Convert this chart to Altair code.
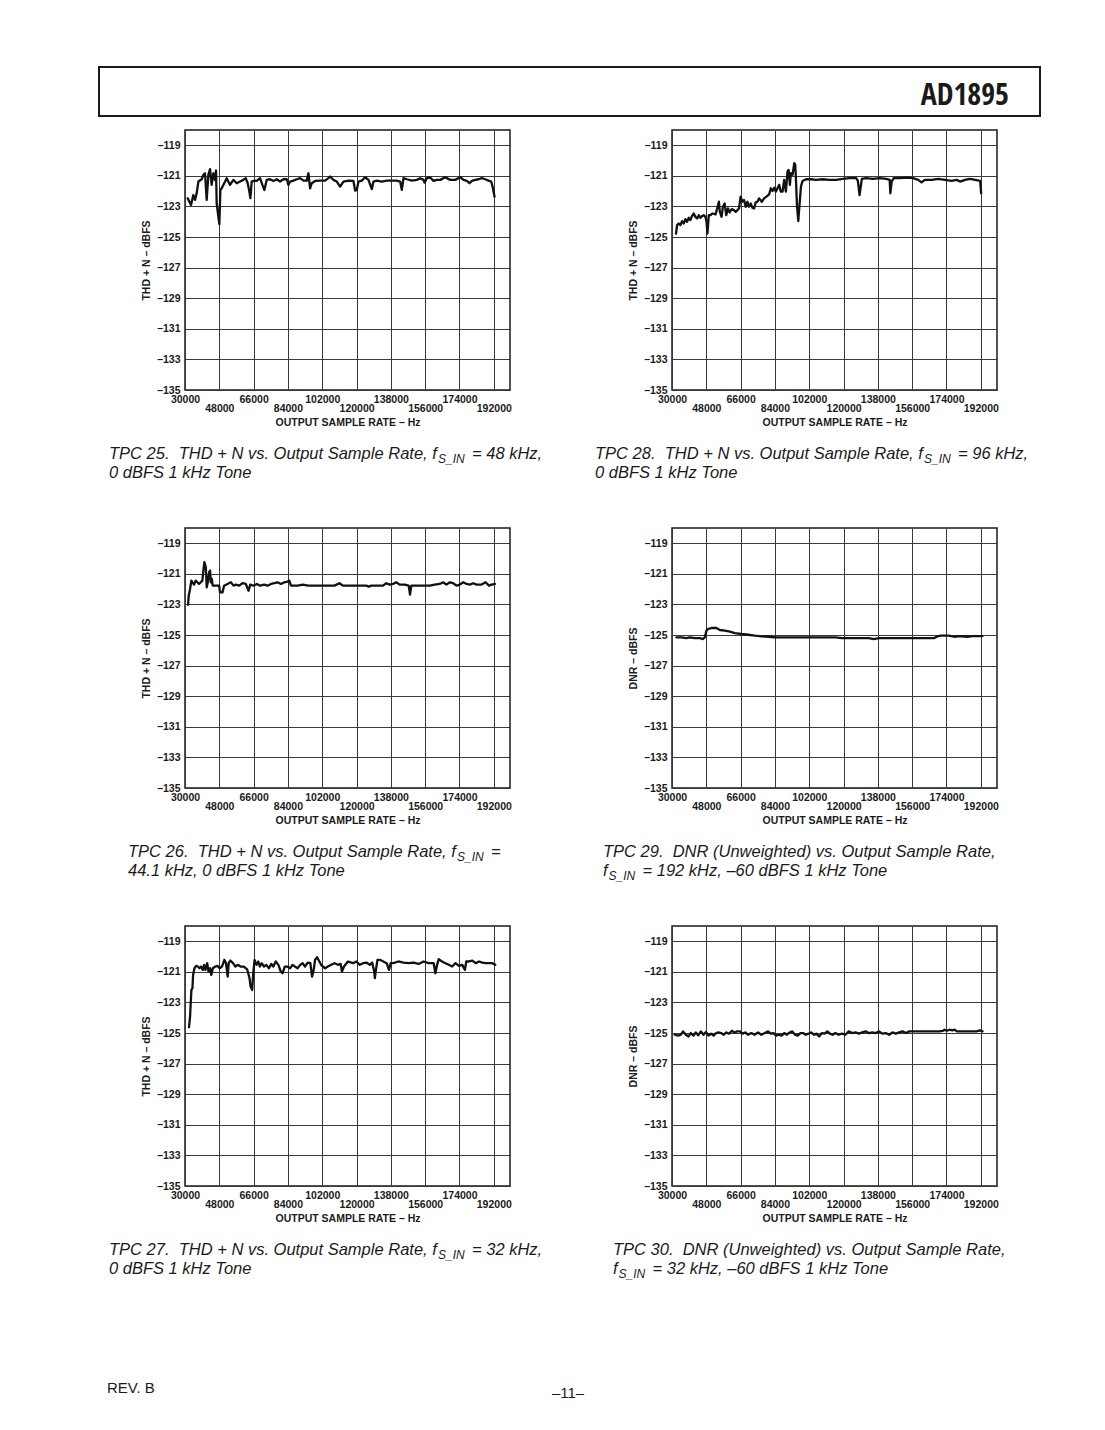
import altair as alt
import pandas as pd

# ---------------- data ----------------
TPC25_RATE = [31400, 33150, 34375, 35250, 36125, 37000, 38750, 39625, 40500, 41375, 42250, 43125, 44000, 44875,
              45750, 46275, 46625, 47500, 48025, 48550, 49250, 50125, 51875, 53625, 55375, 57125, 58875, 60625,
              61850, 62900, 63775, 64300, 65000, 66400, 67625, 69375, 70600, 71650, 72875, 74625, 76375, 78125,
              79875, 81625, 83375, 84250, 85125, 86875, 88625, 90375, 92125, 93875, 94750, 95625, 96500, 98250,
              100875, 103500, 105250, 106125, 107875, 109625, 111375, 113125, 115750, 118375, 119250, 120125,
              121000, 122750, 124500, 126250, 128000, 128875, 130625, 133250, 135875, 138500, 141125, 142875,
              143750, 144625, 146375, 149000, 151625, 153375, 155125, 155650, 156875, 158625, 160375, 162125,
              163875, 166500, 169125, 171750, 174375, 176125, 177875, 179275, 180500, 182250, 184000, 185750,
              187500, 189250, 190650, 191350, 192400]
TPC25_DB = [-122.46, -122.90, -122.25, -122.57, -122.14, -121.37, -121.22, -120.93, -120.83, -122.57, -120.93,
            -120.56, -121.59, -120.83, -121.26, -120.65, -122.79, -123.67, -124.15, -121.92, -121.81, -121.59,
            -121.15, -121.59, -121.26, -121.48, -121.37, -121.26, -121.15, -121.48, -122.03, -122.46, -121.37,
            -121.31, -121.33, -121.15, -121.59, -121.92, -121.26, -121.22, -121.33, -121.22, -121.37, -121.22,
            -121.22, -121.59, -121.37, -121.31, -121.22, -121.15, -121.31, -121.31, -120.83, -121.81, -121.48,
            -121.33, -121.31, -121.31, -121.15, -121.04, -121.26, -121.37, -121.70, -121.37, -121.31, -121.33,
            -121.96, -121.92, -121.37, -121.31, -121.09, -121.26, -121.87, -121.37, -121.31, -121.37, -121.31,
            -121.31, -121.31, -121.37, -121.92, -121.15, -121.22, -121.31, -121.26, -121.15, -121.26, -121.44,
            -121.15, -121.11, -121.33, -121.26, -121.26, -121.09, -121.26, -121.26, -121.09, -121.26, -121.33,
            -121.48, -121.33, -121.26, -121.22, -121.15, -121.22, -121.31, -121.37, -121.70, -122.36]

TPC28_RATE = [32100, 32650, 33500, 34400, 35250, 36150, 37000, 37900, 38800, 39650, 40550, 41400, 42300, 43200,
              44050, 44950, 45800, 46700, 47550, 48100, 48600, 49300, 50200, 51100, 52850, 53700, 54600, 55100,
              56000, 56700, 57600, 58450, 59350, 60200, 61300, 62500, 63400, 65150, 66000, 66900, 67800, 68650,
              69550, 70400, 71300, 72150, 73050, 73900, 74800, 75700, 77100, 78300, 79550, 80950, 81850, 82700,
              83600, 84450, 85350, 86200, 87100, 88000, 88850, 89750, 90600, 91150, 91850, 92350, 93250, 94150,
              94650, 95000, 95550, 96250, 96750, 97650, 98500, 100300, 102900, 105550, 109050, 112600, 116100,
              119600, 123100, 126650, 127500, 128400, 128900, 129600, 131900, 135400, 138950, 142450, 144200,
              144550, 145250, 146300, 149500, 153000, 156500, 159150, 160900, 162650, 166150, 169700, 173200,
              176700, 179350, 181100, 183750, 186350, 189000, 191650, 192200]
TPC28_DB = [-124.77, -124.22, -124.11, -124.22, -123.96, -124.11, -123.83, -124.00, -123.74, -123.89, -123.61,
            -123.46, -123.68, -123.79, -123.57, -123.74, -123.63, -123.57, -123.68, -124.00, -124.77, -123.57,
            -123.57, -123.46, -123.52, -123.13, -122.69, -123.35, -123.68, -123.02, -122.80, -123.57, -123.13,
            -123.39, -123.17, -123.24, -123.35, -123.13, -122.36, -122.69, -122.58, -123.02, -122.69, -123.02,
            -122.80, -123.08, -123.13, -122.73, -122.69, -122.47, -122.69, -122.47, -122.36, -122.21, -121.81,
            -121.99, -121.77, -122.03, -121.81, -121.59, -122.03, -122.03, -121.26, -122.03, -120.71, -120.61,
            -121.59, -120.82, -120.93, -120.17, -120.28, -121.15, -122.91, -123.95, -123.13, -121.70, -121.33,
            -121.22, -121.22, -121.26, -121.22, -121.26, -121.26, -121.20, -121.15, -121.15, -121.33, -122.25,
            -121.81, -121.20, -121.15, -121.20, -121.15, -121.20, -121.26, -122.14, -121.37, -121.15, -121.15,
            -121.11, -121.15, -121.26, -121.42, -121.26, -121.26, -121.20, -121.26, -121.33, -121.26, -121.37,
            -121.26, -121.20, -121.26, -121.33, -122.14]

TPC26_RATE = [31600, 31950, 32650, 33350, 33850, 34750, 35600, 36500, 37350, 38250, 39100, 39650, 40150, 40900,
              41400, 41950, 42650, 43150, 43500, 44050, 44550, 46150, 47900, 48400, 49650, 50500, 52300, 54050,
              55450, 56650, 58400, 60150, 61900, 63350, 64200, 65950, 67700, 69450, 71550, 73300, 75100, 76850,
              78600, 80350, 82100, 83850, 84700, 85600, 87350, 89100, 91750, 94700, 97900, 101400, 104900,
              108400, 111050, 112800, 117150, 121550, 125050, 126450, 127700, 131200, 133850, 135600, 137350,
              139100, 140850, 142600, 145250, 147350, 148050, 148750, 151400, 154900, 158400, 161000, 163650,
              165400, 167150, 168900, 170650, 172450, 174200, 175950, 177700, 179450, 181200, 182950, 185600,
              187700, 189450, 190850, 192600]
TPC26_DB = [-123.02, -122.43, -121.99, -121.44, -121.55, -121.70, -121.44, -121.55, -121.66, -121.55, -121.44,
            -120.78, -120.23, -120.56, -121.88, -121.55, -120.89, -120.78, -121.55, -121.33, -121.77, -121.77,
            -121.77, -122.21, -122.21, -121.77, -121.66, -121.55, -121.77, -121.70, -121.77, -121.61, -121.66,
            -122.10, -121.70, -121.77, -121.66, -121.77, -121.70, -121.77, -121.66, -121.61, -121.55, -121.66,
            -121.55, -121.50, -121.44, -121.77, -121.77, -121.77, -121.70, -121.77, -121.77, -121.77, -121.77,
            -121.77, -121.61, -121.77, -121.77, -121.77, -121.77, -121.83, -121.77, -121.77, -121.77, -121.61,
            -121.70, -121.66, -121.55, -121.70, -121.70, -121.77, -122.36, -121.77, -121.77, -121.77, -121.77,
            -121.70, -121.66, -121.55, -121.70, -121.55, -121.61, -121.77, -121.70, -121.55, -121.66, -121.70,
            -121.61, -121.70, -121.70, -121.55, -121.77, -121.70, -121.66]

TPC29_RATE = [32300, 34900, 37550, 39300, 41950, 44550, 46300, 47200, 48100, 48950, 50700, 53350, 55100, 57750,
              60350, 63000, 66500, 70000, 73500, 77050, 80550, 84050, 89300, 98100, 106850, 115650, 119150,
              124400, 133200, 135850, 138450, 145500, 154250, 161300, 167400, 169150, 170950, 175300, 177950,
              180600, 184950, 187600, 192850]
TPC29_DB = [-125.15, -125.15, -125.20, -125.15, -125.20, -125.20, -125.26, -125.15, -124.71, -124.60, -124.54,
            -124.54, -124.67, -124.71, -124.78, -124.87, -124.93, -124.98, -125.04, -125.09, -125.11, -125.15,
            -125.15, -125.15, -125.15, -125.15, -125.20, -125.20, -125.20, -125.26, -125.20, -125.20, -125.20,
            -125.20, -125.20, -125.09, -125.04, -125.04, -125.11, -125.07, -125.11, -125.07, -125.07]

TPC27_RATE = [32100, 32650, 33000, 33350, 33900, 34250, 34950, 35800, 36700, 37600, 38450, 39350, 40050, 40750,
              41650, 42350, 43200, 43750, 44650, 45850, 47100, 48150, 49400, 50650, 51500, 52400, 52900, 53800,
              55200, 56450, 57700, 59100, 60850, 62600, 63850, 64400, 65250, 65800, 66500, 67550, 68450, 69300,
              70200, 71450, 72650, 74050, 75300, 76350, 77600, 79000, 80250, 81150, 82350, 83750, 85200, 86400,
              87650, 89050, 90450, 91700, 92950, 94350, 95750, 96650, 97350, 98250, 99300, 100500, 101400,
              102300, 103500, 104950, 106700, 108450, 110200, 111650, 112350, 113400, 115500, 118150, 119900,
              121700, 123450, 125200, 126950, 128200, 129250, 129600, 130150, 131000, 132250, 134000, 135800,
              137000, 137900, 139300, 141950, 144600, 147250, 149900, 152550, 155150, 157800, 160450, 161350,
              162250, 163100, 164850, 166650, 168400, 170150, 171900, 173700, 175450, 176850, 177550, 178950,
              180750, 182500, 184250, 186050, 187800, 189550, 191300, 192750]
TPC27_DB = [-124.62, -123.93, -123.05, -122.18, -122.07, -121.20, -120.76, -120.61, -120.65, -120.76, -120.65,
            -120.87, -120.54, -120.87, -120.43, -120.98, -120.76, -121.20, -120.76, -120.65, -120.61, -120.76,
            -120.65, -120.21, -120.43, -121.31, -120.43, -120.26, -120.43, -120.65, -120.54, -120.65, -120.65,
            -120.83, -121.41, -121.96, -122.18, -121.09, -120.21, -120.54, -120.32, -120.65, -120.43, -120.65,
            -120.54, -120.76, -120.48, -120.65, -120.32, -120.54, -120.98, -121.09, -120.65, -120.65, -120.76,
            -120.54, -120.65, -120.76, -120.54, -120.43, -120.65, -120.39, -120.43, -121.31, -120.98, -120.21,
            -120.04, -120.32, -120.54, -120.65, -120.76, -120.65, -120.54, -120.43, -120.54, -120.48, -120.98,
            -120.65, -120.32, -120.43, -120.32, -120.54, -120.43, -120.39, -120.54, -120.39, -120.98, -121.41,
            -120.87, -120.21, -120.21, -120.32, -120.43, -120.87, -120.43, -120.43, -120.32, -120.39, -120.43,
            -120.39, -120.48, -120.32, -120.43, -120.43, -121.09, -120.54, -120.17, -120.32, -120.43, -120.54,
            -120.65, -120.43, -120.61, -120.54, -120.87, -120.32, -120.32, -120.26, -120.43, -120.32, -120.39,
            -120.43, -120.43, -120.43, -120.54]

TPC30_RATE = [31400, 33150, 34600, 35800, 37250, 38650, 39850, 41300, 42500, 43750, 45150, 46550, 47800, 49200,
              50450, 51850, 53100, 54350, 55750, 57150, 58550, 59950, 61400, 62800, 64200, 65600, 67000, 68450,
              69850, 71600, 73350, 75150, 76900, 78650, 80400, 81850, 83250, 84650, 86050, 87450, 88900, 90300,
              91700, 93100, 94550, 95950, 97350, 98750, 100150, 101600, 103000, 104400, 105800, 107200, 108650,
              110050, 111450, 112850, 114250, 115700, 117450, 119200, 120950, 122750, 124500, 126250, 128000,
              129800, 131550, 133300, 135100, 136850, 138600, 140350, 142150, 143900, 145650, 147400, 149200,
              150950, 152700, 154450, 156250, 159750, 163300, 166800, 170350, 172100, 173000, 174200, 175600,
              177050, 178250, 179500, 181800, 184450, 187100, 189750, 191500, 192900]
TPC30_DB = [-125.11, -125.17, -125.11, -124.89, -125.11, -125.22, -125.00, -125.17, -124.96, -125.15, -124.89,
            -125.11, -124.93, -125.17, -125.04, -125.17, -125.00, -124.96, -125.00, -125.11, -124.96, -125.04,
            -124.85, -124.96, -124.89, -124.89, -125.04, -124.96, -125.11, -125.00, -125.11, -124.96, -125.11,
            -125.00, -124.89, -125.04, -125.00, -125.17, -125.11, -125.17, -125.00, -125.11, -124.96, -124.89,
            -125.11, -125.17, -125.00, -125.00, -125.11, -125.04, -124.96, -125.11, -125.04, -125.22, -125.00,
            -125.04, -124.89, -125.04, -125.11, -125.00, -125.11, -125.04, -125.11, -124.89, -125.00, -124.96,
            -125.04, -124.96, -124.89, -125.00, -124.96, -125.00, -124.89, -125.04, -125.00, -125.11, -124.96,
            -125.04, -124.96, -124.89, -125.00, -124.89, -124.89, -124.89, -124.89, -124.89, -124.89, -124.85,
            -124.78, -124.85, -124.78, -124.83, -124.78, -124.89, -124.89, -124.89, -124.89, -124.89, -124.83,
            -124.89]

X_TICKS = [30000, 48000, 66000, 84000, 102000, 120000, 138000, 156000, 174000, 192000]
Y_TICKS = [-135, -133, -131, -129, -127, -125, -123, -121, -119]
X_TITLE = "OUTPUT SAMPLE RATE \u2013 Hz"
THD_TITLE = "THD + N \u2013 dBFS"
DNR_TITLE = "DNR \u2013 dBFS"

CAPTIONS = {
    "25": [("TPC 25.\u00a0 THD + N vs. Output Sample Rate, f", "S_IN", "= 48 kHz,"), ("0 dBFS 1 kHz Tone", None, None)],
    "28": [("TPC 28.\u00a0 THD + N vs. Output Sample Rate, f", "S_IN", "= 96 kHz,"), ("0 dBFS 1 kHz Tone", None, None)],
    "26": [("TPC 26.\u00a0 THD + N vs. Output Sample Rate, f", "S_IN", "="), ("44.1 kHz, 0 dBFS 1 kHz Tone", None, None)],
    "29": [("TPC 29.\u00a0 DNR (Unweighted) vs. Output Sample Rate,", None, None),
           ("f", "S_IN", "= 192 kHz, \u201360 dBFS 1 kHz Tone")],
    "27": [("TPC 27.\u00a0 THD + N vs. Output Sample Rate, f", "S_IN", "= 32 kHz,"), ("0 dBFS 1 kHz Tone", None, None)],
    "30": [("TPC 30.\u00a0 DNR (Unweighted) vs. Output Sample Rate,", None, None),
           ("f", "S_IN", "= 32 kHz, \u201360 dBFS 1 kHz Tone")],
}

# ---------------- styling / layout ----------------
FONT = "Liberation Sans, Arial, Helvetica, sans-serif"
W, H = 325, 260
CAP_SIZE = 16.5
SUB_SIZE = 12
LINE_Y = [329, 348]


def text_layer(txt, x, y, size, align="left", style="normal", weight="normal", font=FONT):
    return alt.Chart(pd.DataFrame({"t": [txt]})).mark_text(
        align=align, baseline="alphabetic", fontSize=size, fontStyle=style,
        fontWeight=weight, font=font, color="#1a1a1a"
    ).encode(x=alt.value(x), y=alt.value(y), text="t:N")


def caption_layers(key, cap_x):
    layers = []
    for i, (main, sub, rest) in enumerate(CAPTIONS[key]):
        y = LINE_Y[i]
        layers.append(text_layer(main, cap_x, y, CAP_SIZE, style="italic"))
        if sub:
            dx = 5.5 if main == "f" else 329
            layers.append(text_layer(sub, cap_x + dx, y + 4, SUB_SIZE, style="italic"))
            layers.append(text_layer(rest, cap_x + dx + 34, y, CAP_SIZE, style="italic"))
    return layers


def panel(rate, db, ytitle, key, cap_x, extras=()):
    df = pd.DataFrame({"rate": rate, "db": db})
    line = alt.Chart(df).mark_line(
        color="#111111", strokeWidth=2.3, strokeJoin="round", strokeCap="round"
    ).encode(
        x=alt.X("rate:Q",
                scale=alt.Scale(domain=[30000, 200500], nice=False, zero=False),
                axis=alt.Axis(values=X_TICKS, format="d",
                              labelExpr="datum.value % 36000 == 12000 ? ['', datum.label] : datum.label",
                              labelOverlap=False, labelFlush=False, labelFont=FONT, labelFontWeight="bold",
                              labelFontSize=10.5, labelColor="#1a1a1a", labelPadding=4.5, labelLineHeight=9,
                              ticks=False, tickSize=0, domain=False,
                              grid=True, gridColor="#3a3a3a", gridWidth=1, gridOpacity=1,
                              title=X_TITLE, titleFont=FONT, titleFontWeight="bold", titleFontSize=10.5,
                              titleColor="#1a1a1a", titlePadding=3)),
        y=alt.Y("db:Q",
                scale=alt.Scale(domain=[-135, -118], nice=False, zero=False),
                axis=alt.Axis(values=Y_TICKS, labelExpr="'\u2013' + abs(datum.value)",
                              labelFont=FONT, labelFontWeight="bold", labelFontSize=10.5,
                              labelColor="#1a1a1a", labelPadding=5, ticks=False, tickSize=0, domain=False,
                              grid=True, gridColor="#3a3a3a", gridWidth=1, gridOpacity=1,
                              title=ytitle, titleFont=FONT, titleFontWeight="bold", titleFontSize=10.5,
                              titleColor="#1a1a1a", titlePadding=5)),
    )
    layers = [line] + caption_layers(key, cap_x) + list(extras)
    return alt.layer(*layers).properties(width=W, height=H)


# header box and part number (drawn from the top-left panel)
header_box = alt.Chart(pd.DataFrame({"a": [0]})).mark_rect(
    fill="transparent", stroke="#1a1a1a", strokeWidth=2
).encode(x=alt.value(-86), x2=alt.value(855), y=alt.value(-63), y2=alt.value(-14))
header_text = text_layer("AD1895", 824, -25, 30, align="right", weight="bold",
                         font="'Open Sans Condensed', 'Liberation Sans Narrow', 'DejaVu Sans Condensed', sans-serif")

# footer (drawn from the bottom-left panel)
footer_rev = text_layer("REV. B", -78, 467, 15)
footer_page = text_layer("\u201311\u2013", 383, 472, 15, align="center")

p25 = panel(TPC25_RATE, TPC25_DB, THD_TITLE, "25", -76, extras=[header_box, header_text])
p28 = panel(TPC28_RATE, TPC28_DB, THD_TITLE, "28", -77)
p26 = panel(TPC26_RATE, TPC26_DB, THD_TITLE, "26", -57)
p29 = panel(TPC29_RATE, TPC29_DB, DNR_TITLE, "29", -69)
p27 = panel(TPC27_RATE, TPC27_DB, THD_TITLE, "27", -76, extras=[footer_rev, footer_page])
p30 = panel(TPC30_RATE, TPC30_DB, DNR_TITLE, "30", -59)

chart = alt.concat(
    p25, p28, p26, p29, p27, p30,
    columns=2, spacing={"row": 138, "column": 162}, bounds="flush"
).properties(
    padding={"left": 89, "top": 57, "right": 10, "bottom": 10}
).configure_view(stroke="#1a1a1a", strokeWidth=1.5)

chart.save("out.html", embed_options={"renderer": "svg", "actions": False})
